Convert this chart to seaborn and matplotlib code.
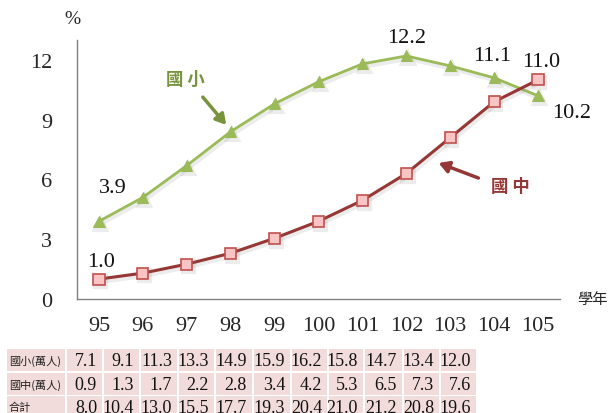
import matplotlib
matplotlib.use('Agg')
import matplotlib.pyplot as plt
import matplotlib.patheffects as pe
from matplotlib.patches import Rectangle
import seaborn as sns
import pandas as pd

years = ['95', '96', '97', '98', '99', '100', '101', '102', '103', '104', '105']
elem_pct = [3.9, 5.1, 6.7, 8.4, 9.8, 10.9, 11.8, 12.2, 11.7, 11.1, 10.2]
junior_pct = [1.0, 1.3, 1.75, 2.3, 3.05, 3.9, 4.95, 6.3, 8.1, 9.9, 11.0]
elem_count = [7.1, 9.1, 11.3, 13.3, 14.9, 15.9, 16.2, 15.8, 14.7, 13.4, 12.0]
junior_count = [0.9, 1.3, 1.7, 2.2, 2.8, 3.4, 4.2, 5.3, 6.5, 7.3, 7.6]
total_count = [8.0, 10.4, 13.0, 15.5, 17.7, 19.3, 20.4, 21.0, 21.2, 20.8, 19.6]
row_labels = ['國小(萬人)', '國中(萬人)', '合計']
elem_name = '國小'
junior_name = '國中'
y_ticks = [0, 3, 6, 9, 12]

sns.set_style('white')
plt.rcParams['font.family'] = ['Liberation Serif', 'Noto Sans CJK TC']

W, H = 611, 414
fig = plt.figure(figsize=(W / 100, H / 100), dpi=100)
ax = fig.add_axes([77 / W, 1 - 300 / H, (560 - 77) / W, (300 - 41) / H])

df = pd.DataFrame({'x': list(range(len(years))), 'elem': elem_pct, 'junior': junior_pct})

green = '#9bbb59'
dgreen = '#77933c'
red = '#953735'
shadow = [pe.SimpleLineShadow(offset=(1.2, -2), shadow_color='gray', alpha=0.15, linewidth=3), pe.Normal()]

sns.lineplot(data=df, x='x', y='elem', ax=ax, color=green, linewidth=2,
             marker='^', markersize=8, markerfacecolor=green, markeredgecolor=green,
             path_effects=shadow)
sns.lineplot(data=df, x='x', y='junior', ax=ax, color=red, linewidth=2.2,
             marker='s', markersize=8, markerfacecolor='#fbc4c4', markeredgecolor='#c0504d',
             markeredgewidth=1.2, path_effects=shadow)

ax.set_xlim(-0.5, len(years) - 0.5)
ax.set_ylim(0, 13)
ax.set_xticks(range(len(years)))
ax.set_xticklabels(years, fontsize=16)
ax.set_xticks([i + 0.5 for i in range(len(years))], minor=True)
ax.set_yticks(y_ticks)
ax.set_yticklabels([str(t) for t in y_ticks], fontsize=16)
ax.tick_params(axis='x', which='major', length=0, pad=12)
ax.tick_params(axis='x', which='minor', direction='in', length=6, color='#808080', width=1)
ax.tick_params(axis='y', which='major', direction='in', length=6, color='#808080', width=1, pad=18)
ax.set_xlabel('')
ax.set_ylabel('')
for s in ['top', 'right']:
    ax.spines[s].set_visible(False)
for s in ['left', 'bottom']:
    ax.spines[s].set_color('#808080')
    ax.spines[s].set_linewidth(1)

def lab(i, vals, dx, dy):
    ax.annotate(f'{vals[i]:.1f}', (i, vals[i]), xytext=(dx, dy), textcoords='offset pixels',
                ha='center', va='center', fontsize=16, color='#111111')

lab(0, elem_pct, 14, 34)
lab(7, elem_pct, 0, 18)
lab(9, elem_pct, -2, 22)
lab(10, elem_pct, 34, -17)
lab(0, junior_pct, 2, 18)
lab(10, junior_pct, 3, 18)

# series name annotations with arrows
fig.text(185 / W, 1 - 80 / H, ' '.join(elem_name), fontsize=12.5, fontweight='bold', color=dgreen,
         ha='center', va='center', family=['Noto Sans CJK TC'])
fig.add_artist(matplotlib.patches.FancyArrowPatch((201 / W, 1 - 96 / H), (228 / W, 1 - 128 / H),
               transform=fig.transFigure, arrowstyle='-|>,head_length=6,head_width=3.5',
               color=dgreen, linewidth=2.5))
fig.text(510 / W, 1 - 187 / H, ' '.join(junior_name), fontsize=12.5, fontweight='bold', color=red,
         ha='center', va='center', family=['Noto Sans CJK TC'])
fig.add_artist(matplotlib.patches.FancyArrowPatch((481 / W, 1 - 180 / H), (436 / W, 1 - 163 / H),
               transform=fig.transFigure, arrowstyle='-|>,head_length=6,head_width=3.5',
               color=red, linewidth=2.5))

fig.text(72 / W, 1 - 20 / H, '%', fontsize=14, ha='center', va='center')
fig.text(592 / W, 1 - 300 / H, '學年', fontsize=11, ha='center', va='center',
         family=['Noto Sans CJK TC'])

# data table
pink = '#f2dcdb'
col_edges = [66, 103, 140, 178, 215, 253, 291, 328, 364, 403, 440, 477]
row_tops = [350, 374, 397]
row_h = 22
rows = [elem_count, junior_count, total_count]
for r, (top, vals) in enumerate(zip(row_tops, rows)):
    fig.add_artist(Rectangle((7 / W, 1 - (top + row_h) / H), (65 - 7) / W, row_h / H,
                             transform=fig.transFigure, facecolor=pink, edgecolor='none'))
    fig.text(9 / W, 1 - (top + row_h / 2) / H, row_labels[r], fontsize=8, ha='left', va='center',
             family=['Noto Sans CJK TC'], color='#222222')
    for c, v in enumerate(vals):
        x0 = col_edges[c] + 1
        x1 = col_edges[c + 1] - 1
        fig.add_artist(Rectangle((x0 / W, 1 - (top + row_h) / H), (x1 - x0) / W, row_h / H,
                                 transform=fig.transFigure, facecolor=pink, edgecolor='none'))
        fig.text((x1 - 5) / W, 1 - (top + row_h / 2 + 1) / H, f'{v:.1f}', fontsize=13,
                 ha='right', va='center', color='#111111')

fig.savefig('out.png', dpi=100)
